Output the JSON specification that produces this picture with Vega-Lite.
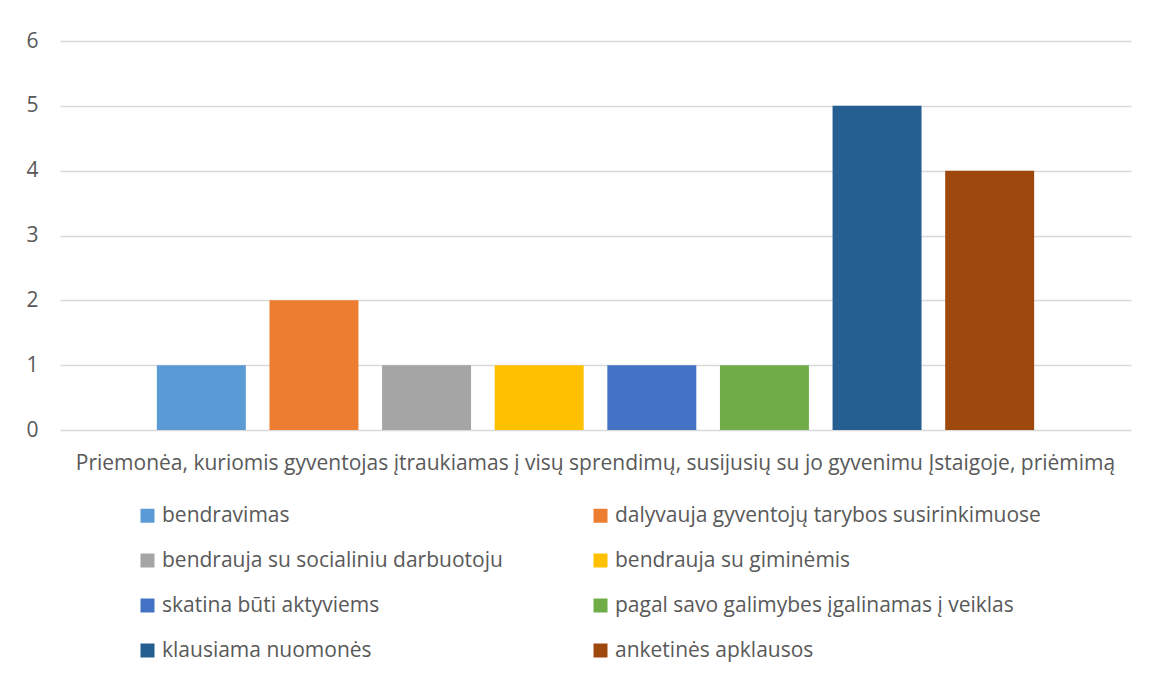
{
  "$schema": "https://vega.github.io/schema/vega-lite/v6.json",
  "autosize": {"type": "none"},
  "width": 1071,
  "height": 389,
  "padding": {"left": 60, "top": 41, "right": 19, "bottom": 248},
  "background": "white",
  "data": {"values": [
    {"category": "Priemonėa, kuriomis gyventojas įtraukiamas į visų sprendimų, susijusių su jo gyvenimu Įstaigoje, priėmimą", "series": "bendravimas", "value": 1},
    {"category": "Priemonėa, kuriomis gyventojas įtraukiamas į visų sprendimų, susijusių su jo gyvenimu Įstaigoje, priėmimą", "series": "dalyvauja gyventojų tarybos susirinkimuose", "value": 2},
    {"category": "Priemonėa, kuriomis gyventojas įtraukiamas į visų sprendimų, susijusių su jo gyvenimu Įstaigoje, priėmimą", "series": "bendrauja su socialiniu darbuotoju", "value": 1},
    {"category": "Priemonėa, kuriomis gyventojas įtraukiamas į visų sprendimų, susijusių su jo gyvenimu Įstaigoje, priėmimą", "series": "bendrauja su giminėmis", "value": 1},
    {"category": "Priemonėa, kuriomis gyventojas įtraukiamas į visų sprendimų, susijusių su jo gyvenimu Įstaigoje, priėmimą", "series": "skatina būti aktyviems", "value": 1},
    {"category": "Priemonėa, kuriomis gyventojas įtraukiamas į visų sprendimų, susijusių su jo gyvenimu Įstaigoje, priėmimą", "series": "pagal savo galimybes įgalinamas į veiklas", "value": 1},
    {"category": "Priemonėa, kuriomis gyventojas įtraukiamas į visų sprendimų, susijusių su jo gyvenimu Įstaigoje, priėmimą", "series": "klausiama nuomonės", "value": 5},
    {"category": "Priemonėa, kuriomis gyventojas įtraukiamas į visų sprendimų, susijusių su jo gyvenimu Įstaigoje, priėmimą", "series": "anketinės apklausos", "value": 4}
  ]},
  "mark": {"type": "bar"},
  "encoding": {
    "x": {
      "field": "category", "type": "nominal",
      "scale": {"paddingInner": 0, "paddingOuter": 0},
      "axis": {"title": null, "labelAngle": 0, "labelLimit": 0, "labelFontSize": 21, "labelColor": "#595959", "labelFont": "Open Sans", "labelPadding": 22, "ticks": false, "domain": false, "grid": false}
    },
    "xOffset": {
      "field": "series", "type": "nominal",
      "sort": ["bendravimas", "dalyvauja gyventojų tarybos susirinkimuose", "bendrauja su socialiniu darbuotoju", "bendrauja su giminėmis", "skatina būti aktyviems", "pagal savo galimybes įgalinamas į veiklas", "klausiama nuomonės", "anketinės apklausos"],
      "scale": {"paddingInner": 0.21, "paddingOuter": 0.86}
    },
    "y": {
      "field": "value", "type": "quantitative",
      "scale": {"domain": [0, 6], "nice": false},
      "axis": {"title": null, "values": [0, 1, 2, 3, 4, 5, 6], "labelFontSize": 21, "labelColor": "#595959", "labelFont": "Open Sans", "labelPadding": 22, "labelOverlap": false, "ticks": false, "domain": false, "gridColor": "#D9D9D9", "gridWidth": 1.3}
    },
    "color": {
      "field": "series", "type": "nominal",
      "sort": ["bendravimas", "dalyvauja gyventojų tarybos susirinkimuose", "bendrauja su socialiniu darbuotoju", "bendrauja su giminėmis", "skatina būti aktyviems", "pagal savo galimybes įgalinamas į veiklas", "klausiama nuomonės", "anketinės apklausos"],
      "scale": {"range": ["#5B9BD5", "#ED7D31", "#A5A5A5", "#FFC000", "#4472C4", "#70AD47", "#255E91", "#9E480E"]},
      "legend": {
        "title": null, "orient": "none", "direction": "horizontal", "legendX": 77, "legendY": 464, "columns": 2, "columnPadding": 87, "rowPadding": 23,
        "symbolType": "square", "symbolSize": 196, "symbolStrokeWidth": 0, "symbolOffset": 0,
        "labelFontSize": 21, "labelFont": "Open Sans", "labelColor": "#595959", "labelOffset": 4, "labelLimit": 0
      }
    }
  },
  "config": {"view": {"stroke": null}}
}
